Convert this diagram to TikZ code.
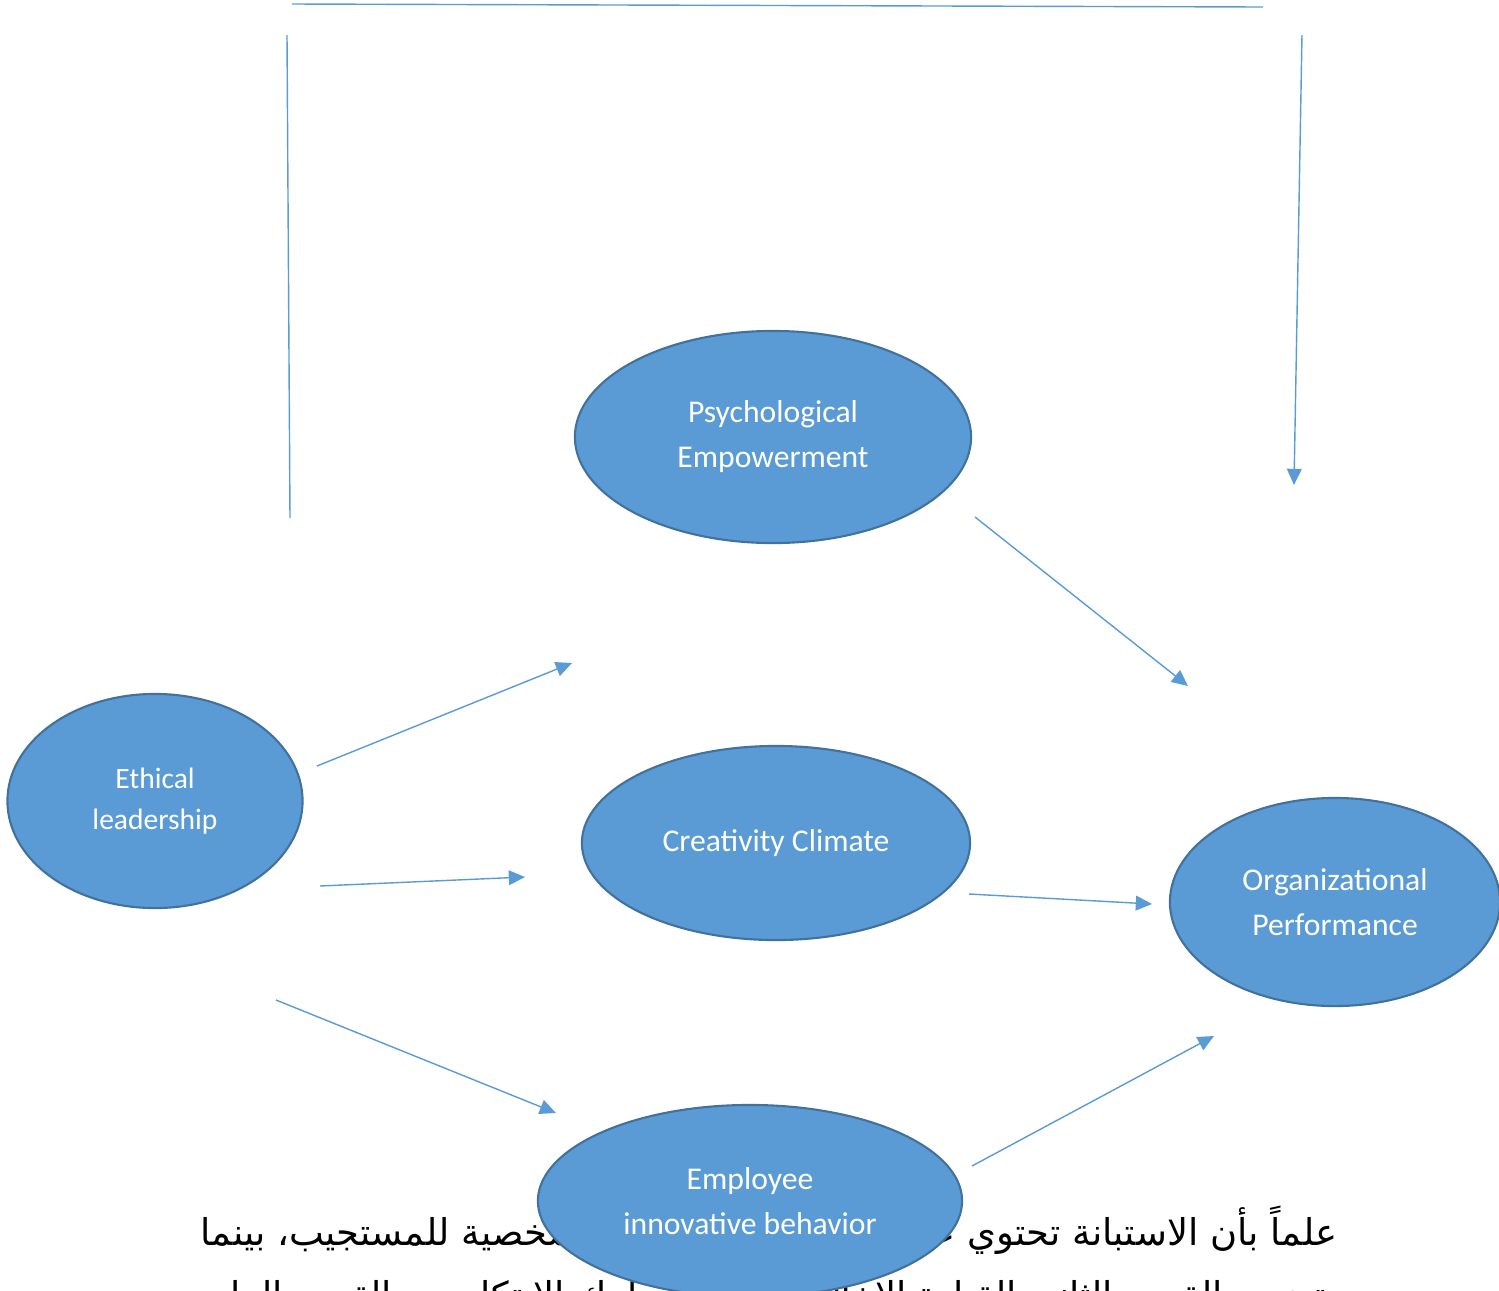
\documentclass[tikz,border=0pt]{standalone}
\usepackage{fontspec}
\usetikzlibrary{shapes.geometric,arrows.meta}
\newfontfamily\calibri{Carlito}
\newfontfamily\arabicfont[Script=Arabic]{DejaVu Sans}
\TeXXeTstate=1
\definecolor{boxblue}{HTML}{5B9BD5}
\definecolor{edgeblue}{HTML}{41719C}
\tikzset{
	factor/.style={ellipse,draw=edgeblue,line width=0.6pt,fill=boxblue,text=white,inner sep=0pt,align=center,font=\calibri\fontsize{9}{12.8}\selectfont},
	link/.style={draw=boxblue,line width=0.4pt},
	arr/.style={link,-{Triangle[length=4.6pt,width=4.2pt]}},
	artext/.style={font=\arabicfont\fontsize{10.5}{12}\selectfont,inner sep=0pt}
}

\begin{document}
\begin{tikzpicture}[x=0.01cm,y=-0.01cm]
			\useasboundingbox (0,0) rectangle (1499,1290);
			\clip (0,0) rectangle (1499,1290);
			% text of the page behind the figure
			\node[artext,anchor=base east](arOneR) at (1338,1245){\beginR علماً بأن الاستبانة تحتوي على 5\endR};
			\node[artext,anchor=base west](arOneL) at (200,1245){\beginR البيانات الشخصية للمستجيب، بينما\endR};
			\node[artext,anchor=base east](arTwoR) at (1338,1308){\beginR يتضمن القسم الثاني القيادة الاخلاقية\endR};
			\node[artext,anchor=base west](arTwoL) at (200,1308){\beginR السلوك الابتكاري، والقسم الرابع\endR};
			% variables
			\node[factor,minimum width=3.96cm,minimum height=2.12cm](psy) at (773,437){Psychological\\Empowerment};
			\node[factor,minimum width=2.95cm,minimum height=2.14cm,font=\calibri\fontsize{8.4}{11.7}\selectfont](eth) at (155,801){Ethical\\leadership};
			\node[factor,minimum width=3.88cm,minimum height=1.94cm](cre) at (776,843){Creativity Climate};
			\node[factor,minimum width=3.30cm,minimum height=2.08cm](org) at (1335,902){Organizational\\Performance};
			\node[factor,minimum width=4.24cm,minimum height=1.92cm](emp) at (750,1201){Employee\\innovative behavior};
			% free ends of the connectors
			\coordinate(topL) at (292,4);
			\coordinate(topR) at (1263,7);
			\coordinate(sideLa) at (287,35);
			\coordinate(sideLb) at (290,518);
			\coordinate(sideRa) at (1302,35);
			\coordinate(sideRb) at (1294,485);
			\coordinate(ethA) at (317,766);
			\coordinate(psyIn) at (572,663);
			\coordinate(ethB) at (320,886);
			\coordinate(creIn) at (525,877);
			\coordinate(ethC) at (276,1000);
			\coordinate(empIn) at (556,1113);
			\coordinate(psyOut) at (975,517);
			\coordinate(orgA) at (1188,686);
			\coordinate(creOut) at (969,894);
			\coordinate(orgB) at (1152,904);
			\coordinate(empOut) at (972,1166);
			\coordinate(orgC) at (1214,1036);
			\draw[link](topL)--(topR);
			\draw[link](sideLa)--(sideLb);
			\draw[arr](sideRa)--(sideRb);
			\draw[arr](ethA)--(psyIn);
			\draw[arr](ethB)--(creIn);
			\draw[arr](ethC)--(empIn);
			\draw[arr](psyOut)--(orgA);
			\draw[arr](creOut)--(orgB);
			\draw[arr](empOut)--(orgC);
		\end{tikzpicture}
\end{document}
